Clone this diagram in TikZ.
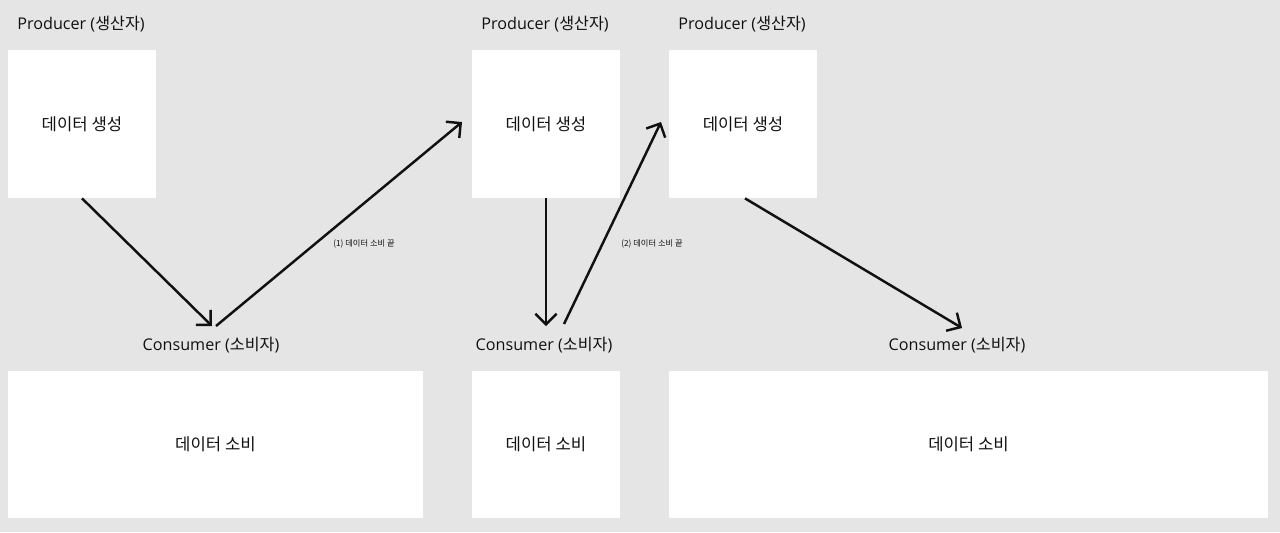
\documentclass[tikz,border=0pt]{standalone}
\usepackage{fontspec}
\setmainfont{Open Sans}
\newfontfamily\kr{Noto Sans CJK KR}
\usetikzlibrary{arrows.meta, positioning}
\definecolor{bggray}{HTML}{E5E5E5}
\definecolor{inkblack}{HTML}{111111}

\tikzset{
  box/.style={fill=white, inner sep=0pt, text=inkblack, font=\kr\fontsize{9.5}{11}\selectfont},
  title/.style={text=inkblack, font=\fontsize{9.2}{11}\selectfont, inner sep=0pt},
  note/.style={text=inkblack, font=\kr\fontsize{4.7}{5.5}\selectfont, inner sep=0pt},
  flow/.style={-{Straight Barb[length=6pt,width=12pt]}, line width=1.4pt, inkblack}
}

\begin{document}
\begin{tikzpicture}[x=0.02cm, y=-0.02cm]
                % Background
                \fill[bggray] (0,0) rectangle (1280,532);
                \useasboundingbox (0,0) rectangle (1280,532);

                % Producer boxes
                \node[box, minimum width=2.96cm, minimum height=2.96cm] (p1) at (82,124) {\raisebox{-0.05cm}{데이터 생성}};
                \node[box, minimum width=2.96cm, minimum height=2.96cm] (p2) at (546,124) {\raisebox{-0.05cm}{데이터 생성}};
                \node[box, minimum width=2.96cm, minimum height=2.96cm] (p3) at (743,124) {\raisebox{-0.05cm}{데이터 생성}};
                \node[title] (p1lbl) at (81,24) {Producer ({\kr 생산자})};
                \node[title] (p2lbl) at (545,24) {Producer ({\kr 생산자})};
                \node[title] (p3lbl) at (742,24) {Producer ({\kr 생산자})};

                % Consumer boxes
                \node[box, minimum width=8.3cm, minimum height=2.94cm] (c1) at (215.5,444.5) {\raisebox{-0.05cm}{데이터 소비}};
                \node[box, minimum width=2.96cm, minimum height=2.94cm] (c2) at (546,444.5) {\raisebox{-0.05cm}{데이터 소비}};
                \node[box, minimum width=11.98cm, minimum height=2.94cm] (c3) at (968.5,444.5) {\raisebox{-0.05cm}{데이터 소비}};
                \node[title] (c1lbl) at (211,345) {Consumer ({\kr 소비자})};
                \node[title] (c2lbl) at (544,345) {Consumer ({\kr 소비자})};
                \node[title] (c3lbl) at (957,345) {Consumer ({\kr 소비자})};

                % Arrow ends
                \coordinate (c1in) at (212,326);
                \coordinate (c1out) at (216,326);
                \coordinate (p2in) at (462,122);
                \coordinate (c2in) at (546,326);
                \coordinate (c2out) at (564,324);
                \coordinate (p3in) at (661,122);
                \coordinate (c3in) at (962,328);

                % Flows
                \draw[flow] (p1.south) -- (c1in);
                \draw[flow] (c1out) -- (p2in);
                \draw[flow] (p2.south) -- (c2in);
                \draw[flow] (c2out) -- (p3in);
                \draw[flow] ([xshift=0.04cm]p3.south) -- (c3in);

                % Notes
                \node[note] (n1) at (364,244) {(1) 데이터 소비 끝};
                \node[note] (n2) at (652,244) {(2) 데이터 소비 끝};
            \end{tikzpicture}
\end{document}
